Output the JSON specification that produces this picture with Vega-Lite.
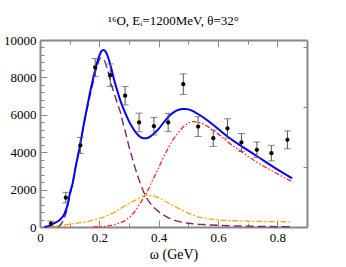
{
  "$schema": "https://vega.github.io/schema/vega-lite/v6.json",
  "width": 267,
  "height": 187,
  "autosize": {"type": "none"},
  "padding": {"left": 40, "top": 40, "right": 39, "bottom": 40},
  "background": "white",
  "config": {
    "view": {"stroke": null},
    "axis": {
      "labelFont": "Liberation Serif", "labelFontSize": 13, "labelColor": "black",
      "titleFont": "Liberation Serif", "titleFontSize": 14, "titleFontWeight": "normal", "titleColor": "black",
      "domainColor": "#888888", "domainWidth": 2, "tickColor": "#888888", "tickWidth": 1, "grid": false
    },
    "title": {"font": "Liberation Serif", "fontSize": 13, "fontWeight": "normal", "color": "black", "offset": 6}
  },
  "title": {"text": "¹⁶O, Eᵢ=1200MeV, θ=32°"},
  "datasets": {
    "curves": [
      {"series": "total", "omega": 0.015, "value": 0},
      {"series": "total", "omega": 0.03, "value": 60},
      {"series": "total", "omega": 0.05, "value": 220},
      {"series": "total", "omega": 0.067, "value": 380},
      {"series": "total", "omega": 0.083, "value": 730},
      {"series": "total", "omega": 0.094, "value": 1260},
      {"series": "total", "omega": 0.1, "value": 1750},
      {"series": "total", "omega": 0.111, "value": 2400},
      {"series": "total", "omega": 0.12, "value": 3200},
      {"series": "total", "omega": 0.133, "value": 4200},
      {"series": "total", "omega": 0.15, "value": 5700},
      {"series": "total", "omega": 0.16, "value": 6500},
      {"series": "total", "omega": 0.17, "value": 7300},
      {"series": "total", "omega": 0.18, "value": 8000},
      {"series": "total", "omega": 0.19, "value": 8650},
      {"series": "total", "omega": 0.2, "value": 9150},
      {"series": "total", "omega": 0.207, "value": 9400},
      {"series": "total", "omega": 0.214, "value": 9470},
      {"series": "total", "omega": 0.22, "value": 9400},
      {"series": "total", "omega": 0.23, "value": 9050},
      {"series": "total", "omega": 0.24, "value": 8500},
      {"series": "total", "omega": 0.25, "value": 7860},
      {"series": "total", "omega": 0.26, "value": 7320},
      {"series": "total", "omega": 0.27, "value": 6800},
      {"series": "total", "omega": 0.283, "value": 6260},
      {"series": "total", "omega": 0.3, "value": 5650},
      {"series": "total", "omega": 0.317, "value": 5190},
      {"series": "total", "omega": 0.333, "value": 4880},
      {"series": "total", "omega": 0.35, "value": 4740},
      {"series": "total", "omega": 0.36, "value": 4750},
      {"series": "total", "omega": 0.37, "value": 4820},
      {"series": "total", "omega": 0.38, "value": 4940},
      {"series": "total", "omega": 0.4, "value": 5250},
      {"series": "total", "omega": 0.42, "value": 5650},
      {"series": "total", "omega": 0.44, "value": 6000},
      {"series": "total", "omega": 0.46, "value": 6220},
      {"series": "total", "omega": 0.48, "value": 6310},
      {"series": "total", "omega": 0.49, "value": 6315},
      {"series": "total", "omega": 0.5, "value": 6290},
      {"series": "total", "omega": 0.52, "value": 6160},
      {"series": "total", "omega": 0.55, "value": 5870},
      {"series": "total", "omega": 0.6, "value": 5250},
      {"series": "total", "omega": 0.633, "value": 4830},
      {"series": "total", "omega": 0.7, "value": 4110},
      {"series": "total", "omega": 0.733, "value": 3770},
      {"series": "total", "omega": 0.8, "value": 3080},
      {"series": "total", "omega": 0.85, "value": 2600},

      {"series": "qe", "omega": 0.06, "value": 0},
      {"series": "qe", "omega": 0.075, "value": 250},
      {"series": "qe", "omega": 0.085, "value": 600},
      {"series": "qe", "omega": 0.1, "value": 1600},
      {"series": "qe", "omega": 0.12, "value": 3200},
      {"series": "qe", "omega": 0.14, "value": 4800},
      {"series": "qe", "omega": 0.16, "value": 6400},
      {"series": "qe", "omega": 0.18, "value": 7800},
      {"series": "qe", "omega": 0.195, "value": 8750},
      {"series": "qe", "omega": 0.206, "value": 9030},
      {"series": "qe", "omega": 0.215, "value": 8950},
      {"series": "qe", "omega": 0.225, "value": 8550},
      {"series": "qe", "omega": 0.239, "value": 7690},
      {"series": "qe", "omega": 0.25, "value": 7150},
      {"series": "qe", "omega": 0.26, "value": 6650},
      {"series": "qe", "omega": 0.272, "value": 6080},
      {"series": "qe", "omega": 0.28, "value": 5550},
      {"series": "qe", "omega": 0.29, "value": 4950},
      {"series": "qe", "omega": 0.3, "value": 4300},
      {"series": "qe", "omega": 0.31, "value": 3750},
      {"series": "qe", "omega": 0.32, "value": 3200},
      {"series": "qe", "omega": 0.33, "value": 2700},
      {"series": "qe", "omega": 0.34, "value": 2250},
      {"series": "qe", "omega": 0.356, "value": 1650},
      {"series": "qe", "omega": 0.37, "value": 1300},
      {"series": "qe", "omega": 0.38, "value": 1100},
      {"series": "qe", "omega": 0.4, "value": 820},
      {"series": "qe", "omega": 0.43, "value": 520},
      {"series": "qe", "omega": 0.46, "value": 330},
      {"series": "qe", "omega": 0.5, "value": 200},
      {"series": "qe", "omega": 0.55, "value": 130},
      {"series": "qe", "omega": 0.6, "value": 90},
      {"series": "qe", "omega": 0.7, "value": 45},
      {"series": "qe", "omega": 0.85, "value": 15},

      {"series": "delta", "omega": 0.18, "value": 0},
      {"series": "delta", "omega": 0.22, "value": 30},
      {"series": "delta", "omega": 0.245, "value": 100},
      {"series": "delta", "omega": 0.27, "value": 230},
      {"series": "delta", "omega": 0.289, "value": 370},
      {"series": "delta", "omega": 0.31, "value": 650},
      {"series": "delta", "omega": 0.325, "value": 950},
      {"series": "delta", "omega": 0.344, "value": 1440},
      {"series": "delta", "omega": 0.36, "value": 1850},
      {"series": "delta", "omega": 0.378, "value": 2450},
      {"series": "delta", "omega": 0.395, "value": 3000},
      {"series": "delta", "omega": 0.411, "value": 3560},
      {"series": "delta", "omega": 0.43, "value": 4150},
      {"series": "delta", "omega": 0.45, "value": 4700},
      {"series": "delta", "omega": 0.47, "value": 5120},
      {"series": "delta", "omega": 0.49, "value": 5450},
      {"series": "delta", "omega": 0.517, "value": 5640},
      {"series": "delta", "omega": 0.54, "value": 5580},
      {"series": "delta", "omega": 0.57, "value": 5330},
      {"series": "delta", "omega": 0.6, "value": 4980},
      {"series": "delta", "omega": 0.633, "value": 4550},
      {"series": "delta", "omega": 0.7, "value": 3800},
      {"series": "delta", "omega": 0.733, "value": 3450},
      {"series": "delta", "omega": 0.8, "value": 2850},
      {"series": "delta", "omega": 0.85, "value": 2420},

      {"series": "mec", "omega": 0.04, "value": 0},
      {"series": "mec", "omega": 0.06, "value": 50},
      {"series": "mec", "omega": 0.1, "value": 150},
      {"series": "mec", "omega": 0.15, "value": 260},
      {"series": "mec", "omega": 0.2, "value": 460},
      {"series": "mec", "omega": 0.25, "value": 780},
      {"series": "mec", "omega": 0.29, "value": 1170},
      {"series": "mec", "omega": 0.322, "value": 1440},
      {"series": "mec", "omega": 0.345, "value": 1630},
      {"series": "mec", "omega": 0.362, "value": 1700},
      {"series": "mec", "omega": 0.38, "value": 1670},
      {"series": "mec", "omega": 0.411, "value": 1470},
      {"series": "mec", "omega": 0.44, "value": 1220},
      {"series": "mec", "omega": 0.467, "value": 1000},
      {"series": "mec", "omega": 0.5, "value": 740},
      {"series": "mec", "omega": 0.522, "value": 590},
      {"series": "mec", "omega": 0.556, "value": 460},
      {"series": "mec", "omega": 0.6, "value": 380},
      {"series": "mec", "omega": 0.65, "value": 335},
      {"series": "mec", "omega": 0.7, "value": 310},
      {"series": "mec", "omega": 0.75, "value": 295},
      {"series": "mec", "omega": 0.8, "value": 285},
      {"series": "mec", "omega": 0.85, "value": 275}
    ],
    "points": [
      {"omega": 0.037, "value": 180, "lo": 40, "hi": 320},
      {"omega": 0.087, "value": 1570, "lo": 1285, "hi": 1855},
      {"omega": 0.136, "value": 4360, "lo": 3935, "hi": 4785},
      {"omega": 0.186, "value": 8530, "lo": 8050, "hi": 9010},
      {"omega": 0.237, "value": 8120, "lo": 7520, "hi": 8720},
      {"omega": 0.287, "value": 7020, "lo": 6530, "hi": 7510},
      {"omega": 0.334, "value": 5590, "lo": 5090, "hi": 6090},
      {"omega": 0.384, "value": 5390, "lo": 4920, "hi": 5860},
      {"omega": 0.432, "value": 5590, "lo": 5100, "hi": 6080},
      {"omega": 0.483, "value": 7640, "lo": 7090, "hi": 8190},
      {"omega": 0.533, "value": 5370, "lo": 4840, "hi": 5900},
      {"omega": 0.584, "value": 4750, "lo": 4310, "hi": 5190},
      {"omega": 0.632, "value": 5270, "lo": 4750, "hi": 5790},
      {"omega": 0.679, "value": 4520, "lo": 4040, "hi": 5000},
      {"omega": 0.731, "value": 4130, "lo": 3715, "hi": 4545},
      {"omega": 0.78, "value": 3950, "lo": 3535, "hi": 4365},
      {"omega": 0.834, "value": 4660, "lo": 4180, "hi": 5140}
    ]
  },
  "resolve": {"axis": {"x": "independent", "y": "independent"}},
  "layer": [
    {
      "data": {"name": "curves"},
      "encoding": {
        "x": {"field": "omega", "type": "quantitative",
          "scale": {"domain": [0, 0.9], "nice": false, "zero": false},
          "axis": {"orient": "bottom", "title": "ω (GeV)", "titlePadding": 3,
            "values": [0, 0.1, 0.2, 0.3, 0.4, 0.5, 0.6, 0.7, 0.8],
            "labelExpr": "round(datum.value*10) % 2 == 0 ? (datum.value == 0 ? '0' : format(datum.value, '.1f')) : ''",
            "tickSize": {"condition": {"test": "round(datum.value*10) % 2 == 0", "value": -7}, "value": -4},
            "labelPadding": 11, "labelFlush": false}},
        "y": {"field": "value", "type": "quantitative",
          "scale": {"domain": [0, 10000], "nice": false},
          "axis": {"orient": "left", "title": null,
            "values": [0, 400, 800, 1200, 1600, 2000, 2400, 2800, 3200, 3600, 4000, 4400, 4800, 5200, 5600, 6000, 6400, 6800, 7200, 7600, 8000, 8400, 8800, 9200, 9600, 10000],
            "labelExpr": "datum.value % 2000 == 0 ? format(datum.value, 'd') : ''",
            "tickSize": {"condition": {"test": "datum.value % 2000 == 0", "value": -7}, "value": -4},
            "labelPadding": 11}}
      },
      "layer": [
        {"transform": [{"filter": "datum.series == 'mec'"}], "mark": {"type": "line", "color": "#ffa500", "strokeWidth": 1.3, "strokeDash": [6, 2, 2, 2], "interpolate": "monotone"}},
        {"transform": [{"filter": "datum.series == 'delta'"}], "mark": {"type": "line", "color": "#ff2020", "strokeWidth": 1.3, "strokeDash": [5, 2, 1.5, 2, 1.5, 2], "interpolate": "monotone"}},
        {"transform": [{"filter": "datum.series == 'qe'"}], "mark": {"type": "line", "color": "#74286c", "strokeWidth": 1.4, "strokeDash": [8, 4], "interpolate": "monotone"}},
        {"transform": [{"filter": "datum.series == 'total'"}], "mark": {"type": "line", "color": "#0000ff", "strokeWidth": 2, "interpolate": "monotone"}}
      ]
    },
    {
      "data": {"name": "points"},
      "encoding": {
        "x": {"field": "omega", "type": "quantitative",
          "scale": {"domain": [0, 0.9], "nice": false, "zero": false},
          "axis": {"orient": "top", "title": null, "labels": false,
            "values": [0, 0.1, 0.2, 0.3, 0.4, 0.5, 0.6, 0.7, 0.8],
            "tickSize": {"condition": {"test": "round(datum.value*10) % 2 == 0", "value": -7}, "value": -4}}}
      },
      "layer": [
        {"mark": {"type": "rule", "color": "#555555", "strokeWidth": 1},
          "encoding": {
            "y": {"field": "lo", "type": "quantitative", "scale": {"domain": [0, 10000], "nice": false},
              "axis": {"orient": "right", "title": null, "labels": false,
                "values": [0, 400, 800, 1200, 1600, 2000, 2400, 2800, 3200, 3600, 4000, 4400, 4800, 5200, 5600, 6000, 6400, 6800, 7200, 7600, 8000, 8400, 8800, 9200, 9600, 10000],
                "tickSize": {"condition": {"test": "datum.value % 2000 == 0", "value": -7}, "value": -4}}},
            "y2": {"field": "hi"}}},
        {"mark": {"type": "tick", "orient": "horizontal", "color": "#555555", "size": 7, "thickness": 1},
          "encoding": {"y": {"field": "lo", "type": "quantitative"}}},
        {"mark": {"type": "tick", "orient": "horizontal", "color": "#555555", "size": 7, "thickness": 1},
          "encoding": {"y": {"field": "hi", "type": "quantitative"}}},
        {"mark": {"type": "point", "filled": true, "color": "black", "size": 18, "opacity": 1},
          "encoding": {"y": {"field": "value", "type": "quantitative"}}}
      ]
    }
  ]
}
